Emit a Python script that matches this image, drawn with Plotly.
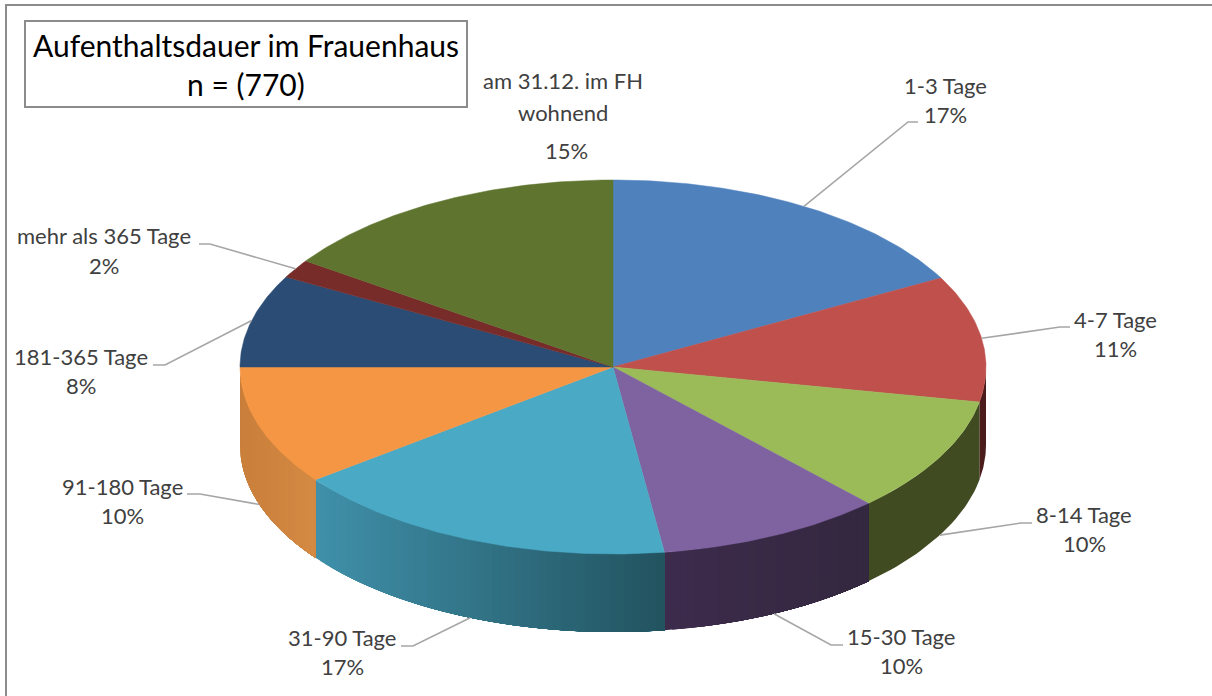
import numpy as np
import plotly.graph_objects as go

# ---- data -------------------------------------------------------------
categories = ["1-3 Tage", "4-7 Tage", "8-14 Tage", "15-30 Tage", "31-90 Tage",
              "91-180 Tage", "181-365 Tage", "mehr als 365 Tage", "am 31.12. im FH wohnend"]
values = [17.1, 10.9, 10, 9.8, 16.9, 10.3, 8, 1.6, 15.4]
percent_labels = ["17%", "11%", "10%", "10%", "17%", "10%", "8%", "2%", "15%"]
top_colors = ["#4f81bd", "#bf504c", "#9bbb59", "#7f62a0", "#4aa9c4", "#f59645", "#2b4c74", "#772c2a", "#5f752f"]
side_left = ["#2c4870", "#4a1c1b", "#414b22", "#3d2b4c", "#4090aa", "#c97f3b", "#1c3250", "#4a1c1b", "#3b4a1e"]
side_right = ["#2c4870", "#4a1c1b", "#414b22", "#33283f", "#22535f", "#d48a42", "#1c3250", "#4a1c1b", "#3b4a1e"]

# ---- layout constants --------------------------------------------------
W, H = 1212, 696
CX, CY, RX, RY, DEPTH = 613, 367, 373, 187, 78
FONT = "Lato"
TEXT = "#404040"
LINE = "#a6a6a6"
FS = 22
TEXT_DY = -2

# (center x, y of name row, y of percent row, elbow x, elbow y, stub x)
label_layout = [
    (945, 87, 116, 908, 122, 918),
    (1115, 321, 350, 1060, 327, 1070),
    (1084, 516, 545, 1021, 523, 1032),
    (901, 638, 667, 831, 645, 843),
    (342, 639, 668, 413, 646, 401),
    (122, 488, 517, 200, 494, 187),
    (81, 358, 387, 165, 365, 153),
    (104, 237, 267, 210, 244, 199),
]


def xy(frac, depth=0.0):
    """Project a pie fraction (0 = top, clockwise) onto the tilted ellipse."""
    a = 2 * np.pi * np.asarray(frac)
    return CX + RX * np.sin(a), CY - RY * np.cos(a) + depth


def mix(c1, c2, t):
    p = [int(c1[i:i + 2], 16) for i in (1, 3, 5)]
    q = [int(c2[i:i + 2], 16) for i in (1, 3, 5)]
    return "rgb(%d,%d,%d)" % tuple(round(a + (b - a) * t) for a, b in zip(p, q))


total = sum(values)
cum = np.concatenate([[0], np.cumsum(values)]) / total

fig = go.Figure()

# side wall: only the front half of the rim is visible.  Each strip runs from
# its own start to the end of the slice, so later strips paint over earlier
# ones and no seams show through.
for i in range(len(values)):
    lo, hi = max(cum[i], 0.25), min(cum[i + 1], 0.75)
    if hi <= lo:
        continue
    n = 1 if side_left[i] == side_right[i] else max(1, int((hi - lo) * 300))
    edges = np.linspace(lo, hi, n + 1)
    xl, xr = xy(hi)[0], xy(lo)[0]
    for k in range(n - 1, -1, -1):
        f = np.linspace(lo, edges[k + 1], 30)
        xt, yt = xy(f)
        xb, yb = xy(f[::-1], DEPTH)
        xm = 0.5 * (xy(edges[k])[0] + xy(edges[k + 1])[0])
        t = (xm - xr) / (xl - xr) if xl != xr else 0
        col = mix(side_right[i], side_left[i], t)
        fig.add_trace(go.Scatter(
            x=np.concatenate([xt, xb]), y=np.concatenate([yt, yb]),
            mode="lines", fill="toself", fillcolor=col,
            line=dict(color=col, width=0), hoverinfo="skip", showlegend=False))

# top face wedges
for i, name in enumerate(categories):
    f = np.linspace(cum[i], cum[i + 1], max(8, int(values[i] * 6)))
    xe, ye = xy(f)
    fig.add_trace(go.Scatter(
        x=np.concatenate([[CX], xe, [CX]]), y=np.concatenate([[CY], ye, [CY]]),
        mode="lines", fill="toself", fillcolor=top_colors[i],
        line=dict(color=top_colors[i], width=0.5), name=name,
        hoverinfo="name", showlegend=False))

# leader lines anchored at each slice's mid-angle
for i, (lx, ny, py, ex, ey, sx) in enumerate(label_layout):
    mid = 0.5 * (cum[i] + cum[i + 1])
    ax, ay = xy(mid, DEPTH if 0.25 < mid < 0.75 else 0)
    fig.add_trace(go.Scatter(x=[ax, ex, sx], y=[ay, ey, ey], mode="lines",
                             line=dict(color=LINE, width=1.6),
                             hoverinfo="skip", showlegend=False))

annotations = []


def text(x, y, s, size=FS, color=TEXT):
    annotations.append(dict(x=x, y=y + TEXT_DY, xref="x", yref="y", text=s, showarrow=False,
                            xanchor="center", yanchor="middle",
                            font=dict(family=FONT, size=size, color=color)))


for i, (lx, ny, py, *_rest) in enumerate(label_layout):
    text(lx, ny, categories[i])
    text(lx, py, percent_labels[i])

text(563, 82, "am 31.12. im FH")
text(563, 114, "wohnend")
text(566, 152, percent_labels[8])
text(246, 47, "Aufenthaltsdauer im Frauenhaus", size=30, color="#000000")
text(246, 86, "n = (770)", size=30, color="#000000")

shapes = [
    dict(type="path", path=f"M 6 {H} L 6 5 L {W} 5", line=dict(color="#8c8c8c", width=2), layer="below"),
    dict(type="rect", x0=25, y0=21, x1=467, y1=107, line=dict(color="#8c8c8c", width=2),
         fillcolor="#ffffff", layer="below"),
]

fig.update_layout(
    width=W, height=H, margin=dict(l=0, r=0, t=0, b=0),
    paper_bgcolor="#ffffff", plot_bgcolor="#ffffff", showlegend=False,
    xaxis=dict(range=[0, W], visible=False, fixedrange=True),
    yaxis=dict(range=[H, 0], visible=False, fixedrange=True),
    annotations=annotations, shapes=shapes,
)
fig.write_html("out.html", config=dict(displayModeBar=False),
               post_script="document.body.style.margin='0';document.body.style.overflow='hidden';")
